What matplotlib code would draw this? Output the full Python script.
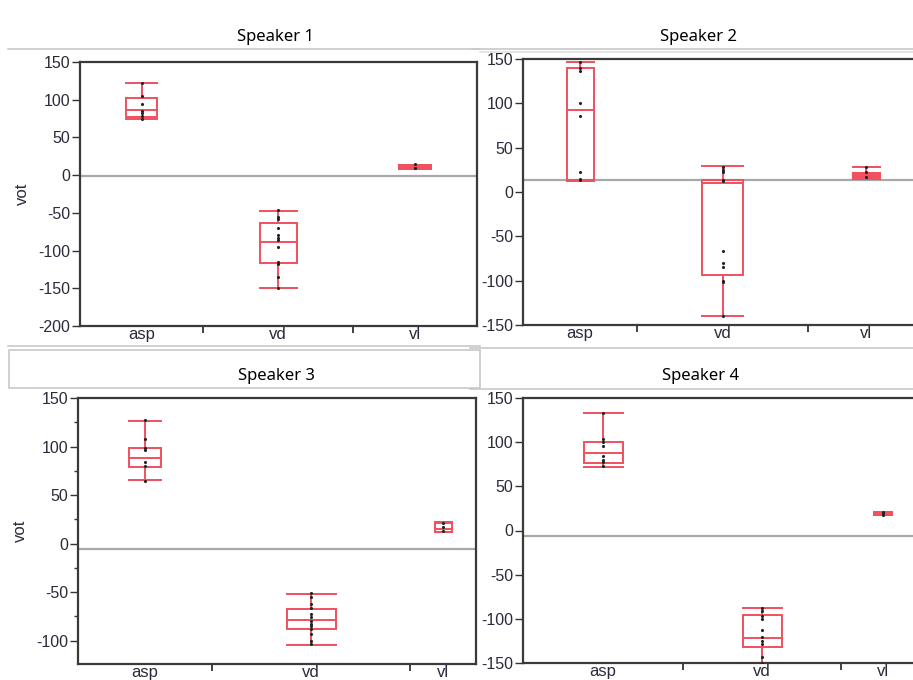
import numpy as np
import matplotlib.pyplot as plt
from matplotlib.lines import Line2D
from matplotlib.patches import Rectangle

speakers = ['Speaker 1', 'Speaker 2', 'Speaker 3', 'Speaker 4']
cats = ['asp', 'vd', 'vl']

# box stats per speaker: [asp, vd, vl]
s1_low = [74, -150, 8]
s1_q1 = [77, -117, 8]
s1_med = [86, -89, 10]
s1_q3 = [102, -63, 13]
s1_high = [122, -47, 14]
s1_pts = [[122, 105, 94, 85, 82, 78, 75],
          [-46, -55, -58, -70, -80, -83, -86, -95, -115, -118, -135, -150],
          [15, 10, 9]]

s2_low = [12, -140, 15]
s2_q1 = [14, -94, 15]
s2_med = [93, 10, 19]
s2_q3 = [140, 13, 21]
s2_high = [147, 29, 28]
s2_pts = [[147, 140, 137, 100, 86, 23, 15, 13],
          [28, 25, 22, 14, 12, -67, -80, -85, -100, -102, -140],
          [28, 22, 17]]

s3_low = [66, -104, 12]
s3_q1 = [79, -88, 12]
s3_med = [88, -79, 15]
s3_q3 = [99, -67, 21]
s3_high = [126, -52, 22]
s3_pts = [[127, 108, 98, 96, 84, 80, 65],
          [-51, -55, -62, -66, -72, -76, -80, -83, -85, -88, -93, -100, -103],
          [21, 17, 13]]

s4_low = [72, -150, 17]
s4_q1 = [76, -132, 17]
s4_med = [88, -122, 18]
s4_q3 = [100, -96, 20]
s4_high = [133, -88, 21]
s4_pts = [[133, 104, 100, 96, 84, 80, 77, 73],
          [-88, -91, -97, -100, -113, -120, -125, -128, -143, -150],
          [21, 19, 18]]

mean_line = [-1, 13, -6, -6]

lows = [s1_low, s2_low, s3_low, s4_low]
q1s = [s1_q1, s2_q1, s3_q1, s4_q1]
meds = [s1_med, s2_med, s3_med, s4_med]
q3s = [s1_q3, s2_q3, s3_q3, s4_q3]
highs = [s1_high, s2_high, s3_high, s4_high]
pts = [s1_pts, s2_pts, s3_pts, s4_pts]

# layout in pixels: frame (left, top, right, bottom), cell edges, box widths
W, H = 913, 680
frames = [(80, 62, 477, 326), (523, 59, 924, 325), (78, 398, 476, 664), (523, 398, 925, 663)]
edges = [[0, 123, 273, 397], [0, 114, 285, 401], [0, 134, 332, 398], [0, 160, 318, 402]]
bwidths = [[31, 37, 32], [27, 41, 27], [32, 49, 17], [39, 39, 18]]
filled = [[False, False, True], [False, False, True], [False, False, False], [False, False, False]]
ylims = [(-200, 150), (-150, 150), (-124, 150), (-150, 150)]
yticks = [np.arange(-200, 151, 50), np.arange(-150, 151, 50), np.arange(-100, 151, 50), np.arange(-150, 151, 50)]
titles_xy = [(275, 37), (698, 37), (277, 376), (701, 376)]

red = '#f0505f'
fig = plt.figure(figsize=(W / 100, H / 100), dpi=100)

for i in range(4):
    l, t, r, b = frames[i]
    ax = fig.add_axes([l / W, 1 - b / H, (r - l) / W, (b - t) / H])
    e = edges[i]
    centers = [(e[k] + e[k + 1]) / 2 for k in range(3)]
    stats = []
    for k in range(3):
        stats.append({'whislo': lows[i][k], 'q1': q1s[i][k], 'med': meds[i][k],
                      'q3': q3s[i][k], 'whishi': highs[i][k], 'fliers': []})
    ax.axhline(mean_line[i], color='#a8a8a8', lw=1.6, zorder=1)
    lp = dict(color=red, lw=1.4)
    bp = ax.bxp(stats, positions=centers, widths=bwidths[i], capwidths=bwidths[i],
                showfliers=False, patch_artist=True,
                boxprops=dict(edgecolor=red, facecolor='none', lw=1.4),
                whiskerprops=lp, capprops=lp, medianprops=lp, manage_ticks=False)
    for k in range(3):
        if filled[i][k]:
            bp['boxes'][k].set_facecolor(red)
    for k in range(3):
        ax.scatter([centers[k]] * len(pts[i][k]), pts[i][k], s=5, color='#222222', zorder=4, lw=0)
    ax.set_xlim(0, r - l)
    ax.set_ylim(*ylims[i])
    ax.set_yticks(yticks[i])
    ax.set_yticklabels([str(v) for v in yticks[i]], family='Liberation Sans', fontsize=11.5, color='#2a2a3a')
    ax.set_xticks(centers)
    ax.set_xticklabels(cats, family='Liberation Sans', fontsize=12, color='#2a2a3a')
    ax.tick_params(axis='x', which='major', length=0, pad=1)
    ax.set_xticks(e[1:3], minor=True)
    ax.tick_params(axis='x', which='minor', length=5, width=1.3, color='#333333')
    ax.tick_params(axis='y', which='major', length=6, width=1, color='#333333', pad=1)
    if i == 2:
        ax.set_yticks(np.arange(-100, 151, 25), minor=True)
        ax.tick_params(axis='y', which='minor', length=3, width=1, color='#333333')
    for sp in ax.spines.values():
        sp.set_color('#3a3a3a')
        sp.set_linewidth(1.6)
    if i in (0, 2):
        ax.set_ylabel('vot', family='Liberation Sans', fontsize=12, color='#2a2a3a', labelpad=6)
    tx, ty = titles_xy[i]
    fig.text(tx / W, 1 - ty / H, speakers[i], family='Noto Sans', fontsize=12, ha='center', va='center')

# screenshot separator lines
def hline(x0, x1, y, c='#c8c8c8'):
    fig.add_artist(Line2D([x0 / W, x1 / W], [1 - y / H, 1 - y / H], color=c, lw=1.2, transform=fig.transFigure))

hline(8, 480, 49)
hline(472, 913, 49)
hline(480, 913, 52, '#e0e0e0')
hline(8, 480, 346)
hline(470, 913, 348)
hline(470, 913, 389)
fig.add_artist(Rectangle((9 / W, 1 - 388 / H), 471 / W, 38 / H, fill=False, edgecolor='#c8c8c8', lw=1.2,
                         transform=fig.transFigure))

plt.savefig('out.png', dpi=100)
